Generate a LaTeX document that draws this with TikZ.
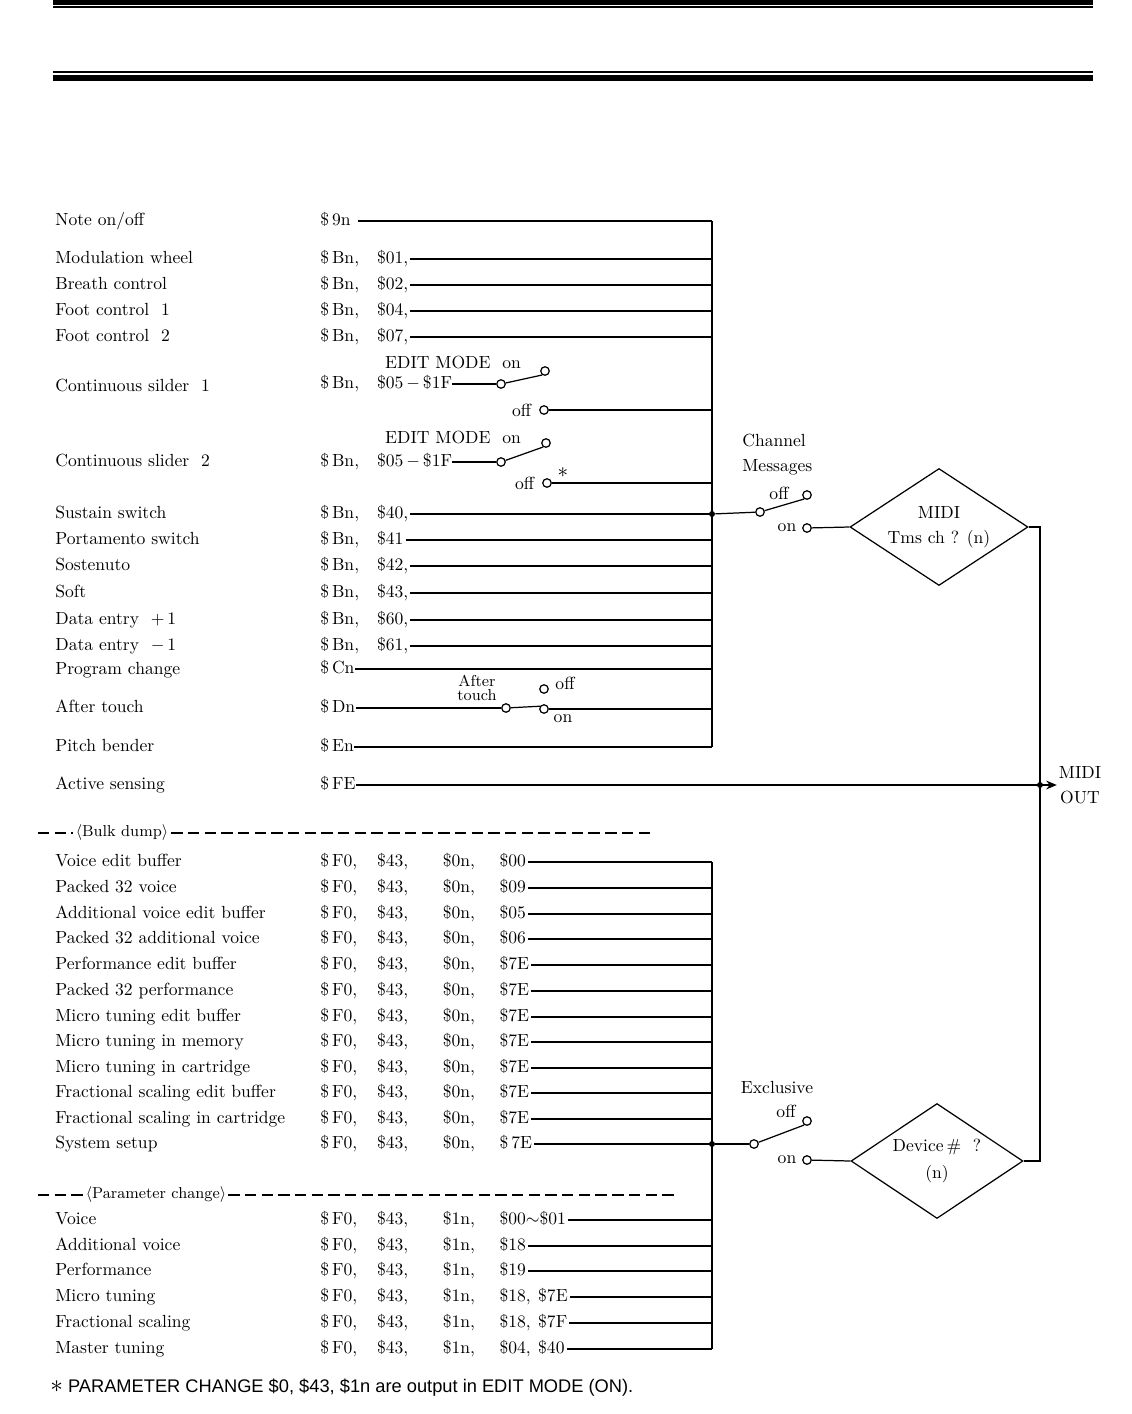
\documentclass[tikz,border=0pt]{standalone}
\usepackage{fontspec}
\newfontfamily\notefont{Liberation Sans}
\usepackage{tikz}
\usetikzlibrary{
	arrows.meta,
	calc,
	shapes.geometric,
	positioning
}

\newcommand{\colA}[1]{\makebox[32.3pt][l]{#1}}
\newcommand{\colB}[1]{\makebox[37.4pt][l]{#1}}
\newcommand{\colC}[1]{\makebox[32.3pt][l]{#1}}
\newcommand{\colD}[1]{\makebox[22pt][l]{#1}}

\tikzset{
	lbl/.style={anchor=west, inner sep=0pt, text height=1.6ex, text depth=0.4ex},
	wire/.style={line width=0.7pt},
	bus/.style={line width=0.9pt},
	term/.style={circle, draw, fill=white, inner sep=0pt, minimum size=0.17cm, line width=0.7pt},
	jdot/.style={circle, fill, inner sep=0pt, minimum size=0.12cm},
	decision/.style={diamond, draw, aspect=1.5, inner sep=0pt, align=center, line width=0.7pt},
	rule/.style={dash pattern=on 6.5pt off 3pt, line width=0.7pt}
}

\begin{document}
\begin{tikzpicture}[x=0.02cm, y=-0.02cm]

	\useasboundingbox (0,0) rectangle (1132,1414);

	% heading rules
	\fill (53,0) rectangle (1093,5);
	\fill (53,6.3) rectangle (1093,7.9);
	\fill (53,70.8) rectangle (1093,72.6);
	\fill (53,74.6) rectangle (1093,80.6);

	\coordinate (chtop) at (712,221);
	\coordinate (chbot) at (712,747);
	\coordinate (extop) at (712,862);
	\coordinate (exbot) at (712,1349);

	\draw[bus] (chtop) -- (chbot);
	\draw[bus] (extop) -- (exbot);

	% channel messages
	\node[lbl] (nl) at (55,221) {Note on/off};
	\node[lbl] (nv) at (320,221) {\$\,9n};
	\draw[wire] ([xshift=4pt]nv.east) -- (chtop);

	\foreach \y/\name/\val [count=\i] in {259/Modulation wheel/{01,}, 285/Breath control/{02,},
		311/Foot control\ \ 1/{04,}, 337/Foot control\ \ 2/{07,}, 514/Sustain switch/{40,},
		540/Portamento switch/41, 566/Sostenuto/{42,}, 593/Soft/{43,},
		620/Data entry \ $+$\,1/{60,}, 646/Data entry \ $-$\,1/{61,}}{
		\node[lbl] (cl\i) at (55,\y) {\name};
		\node[lbl] (cv\i) at (320,\y) {\colA{\$\,Bn,}\$\val};
		\draw[wire] ([xshift=1pt]cv\i.east) -- (cv\i.east -| chtop);
	}

	% edit mode switches
	\node[lbl] (sl1) at (55,387) {Continuous silder\ \ 1};
	\node[lbl] (sv1) at (320,384) {\colA{\$\,Bn,}\$05\,$-$\,\$1F};
	\node at (453,362) {EDIT MODE\ \ on};
	\node[term] (e1p) at (501,384) {};
	\node[term] (e1on) at (545,371) {};
	\node[term] (e1off) at (544,410) {};
	\node[left=1pt of e1off] {off};
	\draw[wire] (sv1.east) -- (e1p);
	\draw[wire] (e1p) -- (e1on.235);
	\draw[wire] (e1off) -- (e1off -| chtop);

	\node[lbl] (sl2) at (55,462) {Continuous slider\ \ 2};
	\node[lbl] (sv2) at (320,462) {\colA{\$\,Bn,}\$05\,$-$\,\$1F};
	\node at (453,437) {EDIT MODE\ \ on};
	\node[term] (e2p) at (501,462) {};
	\node[term] (e2on) at (546,443) {};
	\node[term] (e2off) at (547,483) {};
	\node[left=1pt of e2off] {off};
	\node at (563,473) {\large$\ast$};
	\draw[wire] (sv2.east) -- (e2p);
	\draw[wire] (e2p) -- (e2on.235);
	\draw[wire] (e2off) -- (e2off -| chtop);

	\node[lbl] (pl) at (55,670) {Program change};
	\node[lbl] (pv) at (320,669) {\$\,Cn};
	\draw[wire] (pv.east) -- (pv.east -| chtop);

	% after touch switch
	\node[lbl] (al) at (55,708) {After touch};
	\node[lbl] (dv) at (320,708) {\$\,Dn};
	\node[align=center, font=\small, inner sep=0pt] (atl) at (477,688) {After\\[-3.5pt]touch};
	\node[term] (atp) at (506,708) {};
	\node[term] (atoff) at (544,689) {};
	\node[term] (aton) at (544,709) {};
	\node at (565,683) {off};
	\node at (563,719) {on};
	\draw[wire] (dv.east) -- (atp);
	\draw[wire] (atp) -- (aton.145);
	\draw[wire] (aton) -- (aton -| chtop);

	\node[lbl] (el) at (55,747) {Pitch bender};
	\node[lbl] (ev) at (320,747) {\$\,En};
	\draw[wire] (ev.east) -- (chbot);

	% channel switch
	\node[jdot] (chj) at (712,514) {};
	\node[lbl] (chan1) at (742,442) {Channel};
	\node[lbl] (chan2) at (742,467) {Messages};
	\node[term] (chp) at (760,512) {};
	\node[term] (choff) at (807,495) {};
	\node[term] (chon) at (807,528) {};
	\node at (779,493) {off};
	\node at (787,528) {on};
	\draw[wire] (chj) -- (chp);
	\draw[wire] (chp) -- (choff.235);
	\node[decision, minimum width=3.56cm, minimum height=2.34cm] (midi) at (939,527) {MIDI\\[2pt]Tms ch ? (n)};
	\draw[wire] (chon) -- (midi.west);

	% active sensing and output
	\node[lbl] (fl) at (55,785) {Active sensing};
	\node[lbl] (fv) at (320,785) {\$\,FE};
	\node[align=center, inner sep=1pt] (midiout) at (1080,785) {MIDI\\[2pt]OUT};
	\draw[wire, -{Stealth[length=6pt, width=5pt]}] (fv.east) -- (midiout.west);
	\node[jdot] (outj) at (1040,785) {};

	% bulk dump
	\node[font=\small, inner sep=1.5pt] (bulk) at (122,833) {$\langle$Bulk dump$\rangle$};
	\coordinate (bulkl) at (38,833);
	\coordinate (bulkr) at (655,833);
	\draw[rule] (bulkl) -- (bulk.west);
	\draw[rule] (bulk.east) -- (bulkr);

	\foreach \y/\name/\val [count=\i] in {862/Voice edit buffer/00, 888/Packed 32 voice/09,
		914/Additional voice edit buffer/05, 939/Packed 32 additional voice/06,
		965/Performance edit buffer/7E, 991/Packed 32 performance/7E,
		1017/Micro tuning edit buffer/7E, 1042/Micro tuning in memory/7E,
		1068/Micro tuning in cartridge/7E, 1093/Fractional scaling edit buffer/7E,
		1119/Fractional scaling in cartridge/7E, 1144/System setup/\,7E}{
		\node[lbl] (bl\i) at (55,\y) {\name};
		\node[lbl] (bv\i) at (320,\y) {\colA{\$\,F0,}\colB{\$43,}\colC{\$0n,}\$\val};
		\draw[wire] ([xshift=1pt]bv\i.east) -- (bv\i.east -| extop);
	}

	% parameter change
	\node[font=\small, inner sep=1pt] (param) at (156,1195) {$\langle$Parameter change$\rangle$};
	\coordinate (paraml) at (38,1195);
	\coordinate (paramr) at (675,1195);
	\draw[rule] (paraml) -- (param.west);
	\draw[rule] (param.east) -- (paramr);

	\foreach \y/\name/\val [count=\i] in {1220/Voice/{\$00$\sim$\$01}, 1246/Additional voice/{\$18},
		1271/Performance/{\$19}, 1297/Micro tuning/{\colD{\$18,}\$7E},
		1323/Fractional scaling/{\colD{\$18,}\$7F}, 1349/Master tuning/{\colD{\$04,}\$40}}{
		\node[lbl] (ql\i) at (55,\y) {\name};
		\node[lbl] (qv\i) at (320,\y) {\colA{\$\,F0,}\colB{\$43,}\colC{\$1n,}\val};
		\draw[wire] ([xshift=1pt]qv\i.east) -- (qv\i.east -| extop);
	}

	% exclusive switch
	\node[jdot] (exj) at (712,1144) {};
	\node at (777,1087) {Exclusive};
	\node[term] (exp) at (754,1144) {};
	\node[term] (exoff) at (807,1121) {};
	\node[term] (exon) at (807,1160) {};
	\node at (786,1111) {off};
	\node at (787,1160) {on};
	\draw[wire] (exj) -- (exp);
	\draw[wire] (exp) -- (exoff.235);
	\node[decision, minimum width=3.44cm, minimum height=2.3cm] (dev) at (937,1161) {Device\,\#\ \ ?\\[3pt](n)};
	\draw[wire] (exon) -- (dev.west);

	\draw[wire] (midi.east) -- (midi.east -| outj) -- (dev.east -| outj) -- (dev.east);

	\node[anchor=west, inner sep=0pt] (foot) at (50,1388) {\notefont\fontsize{10.4}{12}\selectfont {\Large$\ast$} PARAMETER CHANGE \$0, \$43, \$1n are output in EDIT MODE (ON).};

\end{tikzpicture}
\end{document}
